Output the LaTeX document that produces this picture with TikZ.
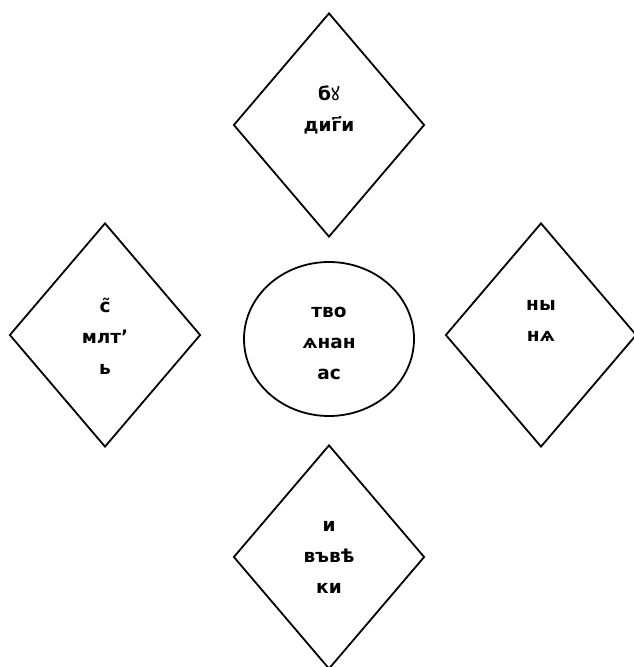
\documentclass[tikz,border=0pt]{standalone}
\usepackage{fontspec}
\setmainfont{DejaVu Sans}
\newfontfamily\notosans{Noto Sans}
\usetikzlibrary{shapes.geometric}
\begin{document}
\begin{tikzpicture}[x=1pt,y=-1pt,
  dia/.style={draw,line width=1.8pt,diamond,inner sep=0pt,minimum width=191pt,minimum height=224pt},
  ell/.style={draw,line width=1.8pt,ellipse,inner sep=0pt,minimum width=170pt,minimum height=154pt},
  lbl/.style={align=center,font=\fontsize{18.5}{31}\selectfont\bfseries,inner sep=0pt}]
\useasboundingbox (0,0) rectangle (633,667);
\node[dia] (top) at (329,125) {};
\node[dia] (left) at (105,335) {};
\node[dia] (right) at (541,335) {};
\node[dia] (bottom) at (329,557) {};
\node[ell] (mid) at (329,339) {};
\node[lbl] (ttop) at (329,110) {б{\notosans\bfseries ꙋ}\\диг҃и};
\node[lbl] (tleft) at (105,336) {с̃\\млт’\\ь};
\node[lbl] (tmid) at (329,343) {тво\\ѧнан\\ас};
\node[lbl] (tright) at (541,321) {ны\\нѧ};
\node[lbl] (tbottom) at (329,557) {и\\въвѣ\\ки};
\end{tikzpicture}
\end{document}
